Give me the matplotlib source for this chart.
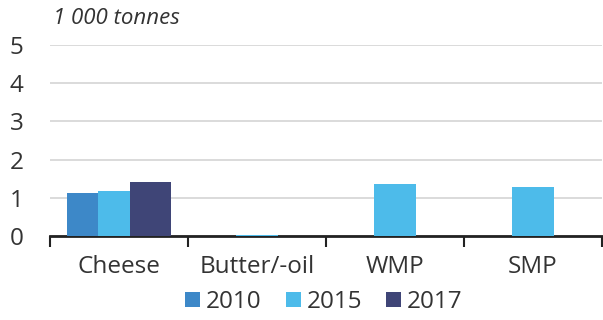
import numpy as np
import matplotlib.pyplot as plt

plt.rcParams['font.family'] = ['Open Sans', 'DejaVu Sans']

products = ['Cheese', 'Butter/-oil', 'WMP', 'SMP']
years = ['2010', '2015', '2017']
v2010 = [1.12, 0.0, 0.0, 0.0]
v2015 = [1.17, 0.02, 1.35, 1.29]
v2017 = [1.41, 0.0, 0.0, 0.0]
colors = ['#3d88c8', '#4dbbea', '#3f4577']

fig = plt.figure(figsize=(6.03, 3.2), dpi=100)
ax = fig.add_axes([50 / 603, (320 - 236) / 320, 552 / 603, 191 / 320])

x = np.arange(len(products))
offsets = [-0.228, 0.0, 0.228]
for vals, off, col, lab in zip([v2010, v2015, v2017], offsets, colors, years):
    ax.bar(x + off, vals, width=0.30, color=col, alpha=0.82, label=lab, zorder=3)

ax.set_xlim(-0.5, 3.5)
ax.set_ylim(0, 5)
ax.set_yticks(range(6))
ax.yaxis.grid(True, color='#d4d4d4', linewidth=1.2, zorder=0)
ax.set_axisbelow(True)

ax.set_xticks(x)
ax.set_xticklabels(products)
ax.set_xticks(np.arange(-0.5, 4, 1), minor=True)
ax.tick_params(axis='x', which='major', length=0, pad=14, labelsize=17.5, labelcolor='#333333')
ax.tick_params(axis='x', which='minor', length=8, width=1.5, color='#222222')
ax.tick_params(axis='y', length=0, pad=19, labelsize=17.5, labelcolor='#333333')

for s in ['top', 'right', 'left']:
    ax.spines[s].set_visible(False)
ax.spines['bottom'].set_linewidth(2)
ax.spines['bottom'].set_color('#222222')

fig.text(53 / 603, 1 - 18 / 320, '1 000 tonnes', fontsize=16, style='italic',
         color='#333333', va='center', ha='left')

handles, labels = ax.get_legend_handles_labels()
for h in handles:
    for p in h.patches:
        p.set_alpha(1)
leg = fig.legend(handles, labels, loc='center', bbox_to_anchor=(324 / 603, 1 - 302 / 320),
                 ncol=3, frameon=False, fontsize=17.5, handlelength=0.6, handleheight=0.6,
                 handletextpad=0.25, columnspacing=1.0, labelcolor='#333333',
                 borderpad=0, borderaxespad=0)

fig.savefig('out.png', dpi=100)
